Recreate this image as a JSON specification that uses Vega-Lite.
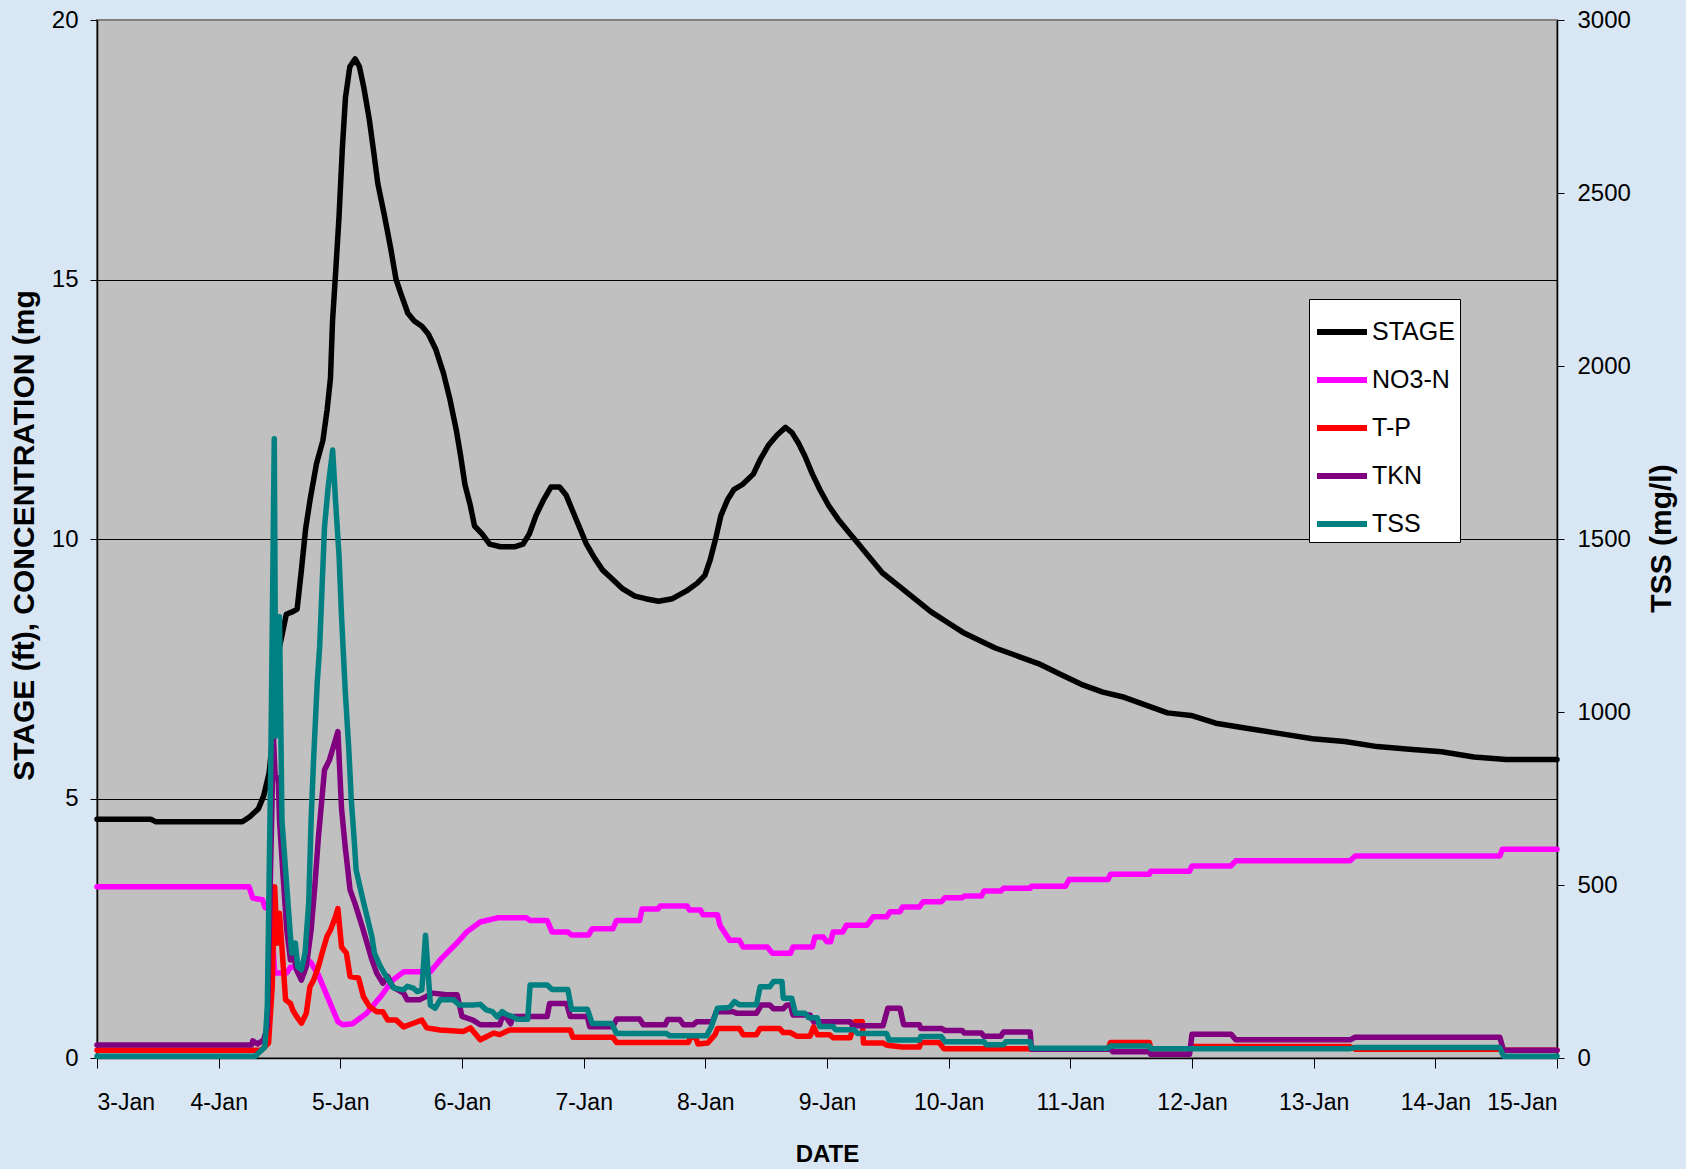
{
  "$schema": "https://vega.github.io/schema/vega-lite/v6.json",
  "width": 1460,
  "height": 1038,
  "autosize": {"type": "none"},
  "padding": {"left": 97, "top": 20, "right": 129, "bottom": 111},
  "background": "#d9e7f5",
  "config": {
    "font": "Liberation Sans",
    "view": {"fill": "#c0c0c0", "stroke": "#808080", "strokeWidth": 2},
    "axis": {"labelColor": "black", "titleColor": "black", "domainColor": "black", "tickColor": "black", "labelFont": "Liberation Sans", "titleFont": "Liberation Sans"}
  },
  "datasets": {
    "all": [
      {"series":"STAGE","day":3.0,"value":4.6},{"series":"STAGE","day":3.442,"value":4.6},{"series":"STAGE","day":3.486,"value":4.55},{"series":"STAGE","day":4.194,"value":4.55},{"series":"STAGE","day":4.256,"value":4.65},{"series":"STAGE","day":4.326,"value":4.8},{"series":"STAGE","day":4.37,"value":5.05},{"series":"STAGE","day":4.415,"value":5.5},{"series":"STAGE","day":4.45,"value":6.3},{"series":"STAGE","day":4.485,"value":7.75},{"series":"STAGE","day":4.521,"value":8.15},{"series":"STAGE","day":4.556,"value":8.55},{"series":"STAGE","day":4.609,"value":8.6},{"series":"STAGE","day":4.645,"value":8.65},{"series":"STAGE","day":4.68,"value":9.4},{"series":"STAGE","day":4.715,"value":10.2},{"series":"STAGE","day":4.751,"value":10.75},{"series":"STAGE","day":4.804,"value":11.45},{"series":"STAGE","day":4.857,"value":11.9},{"series":"STAGE","day":4.892,"value":12.5},{"series":"STAGE","day":4.919,"value":13.1},{"series":"STAGE","day":4.936,"value":14.2},{"series":"STAGE","day":4.963,"value":15.2},{"series":"STAGE","day":4.989,"value":16.2},{"series":"STAGE","day":5.016,"value":17.5},{"series":"STAGE","day":5.042,"value":18.5},{"series":"STAGE","day":5.078,"value":19.1},{"series":"STAGE","day":5.122,"value":19.25},{"series":"STAGE","day":5.157,"value":19.1},{"series":"STAGE","day":5.193,"value":18.7},{"series":"STAGE","day":5.237,"value":18.1},{"series":"STAGE","day":5.272,"value":17.5},{"series":"STAGE","day":5.308,"value":16.85},{"series":"STAGE","day":5.361,"value":16.25},{"series":"STAGE","day":5.414,"value":15.6},{"series":"STAGE","day":5.458,"value":15.0},{"series":"STAGE","day":5.502,"value":14.7},{"series":"STAGE","day":5.555,"value":14.35},{"series":"STAGE","day":5.608,"value":14.2},{"series":"STAGE","day":5.67,"value":14.1},{"series":"STAGE","day":5.723,"value":13.95},{"series":"STAGE","day":5.785,"value":13.65},{"series":"STAGE","day":5.847,"value":13.2},{"series":"STAGE","day":5.9,"value":12.7},{"series":"STAGE","day":5.953,"value":12.1},{"series":"STAGE","day":5.989,"value":11.6},{"series":"STAGE","day":6.024,"value":11.05},{"series":"STAGE","day":6.068,"value":10.65},{"series":"STAGE","day":6.103,"value":10.25},{"series":"STAGE","day":6.165,"value":10.1},{"series":"STAGE","day":6.227,"value":9.9},{"series":"STAGE","day":6.316,"value":9.85},{"series":"STAGE","day":6.431,"value":9.85},{"series":"STAGE","day":6.501,"value":9.9},{"series":"STAGE","day":6.554,"value":10.1},{"series":"STAGE","day":6.608,"value":10.45},{"series":"STAGE","day":6.669,"value":10.75},{"series":"STAGE","day":6.731,"value":11.0},{"series":"STAGE","day":6.802,"value":11.0},{"series":"STAGE","day":6.855,"value":10.85},{"series":"STAGE","day":6.908,"value":10.55},{"series":"STAGE","day":6.961,"value":10.25},{"series":"STAGE","day":7.023,"value":9.9},{"series":"STAGE","day":7.085,"value":9.65},{"series":"STAGE","day":7.156,"value":9.4},{"series":"STAGE","day":7.226,"value":9.25},{"series":"STAGE","day":7.315,"value":9.05},{"series":"STAGE","day":7.421,"value":8.9},{"series":"STAGE","day":7.509,"value":8.85},{"series":"STAGE","day":7.615,"value":8.8},{"series":"STAGE","day":7.73,"value":8.85},{"series":"STAGE","day":7.845,"value":9.0},{"series":"STAGE","day":7.934,"value":9.15},{"series":"STAGE","day":7.996,"value":9.3},{"series":"STAGE","day":8.04,"value":9.6},{"series":"STAGE","day":8.084,"value":10.0},{"series":"STAGE","day":8.128,"value":10.45},{"series":"STAGE","day":8.181,"value":10.75},{"series":"STAGE","day":8.234,"value":10.95},{"series":"STAGE","day":8.305,"value":11.05},{"series":"STAGE","day":8.394,"value":11.25},{"series":"STAGE","day":8.455,"value":11.55},{"series":"STAGE","day":8.517,"value":11.8},{"series":"STAGE","day":8.588,"value":12.0},{"series":"STAGE","day":8.659,"value":12.15},{"series":"STAGE","day":8.712,"value":12.05},{"series":"STAGE","day":8.765,"value":11.85},{"series":"STAGE","day":8.818,"value":11.6},{"series":"STAGE","day":8.88,"value":11.25},{"series":"STAGE","day":8.942,"value":10.95},{"series":"STAGE","day":9.012,"value":10.65},{"series":"STAGE","day":9.101,"value":10.35},{"series":"STAGE","day":9.189,"value":10.1},{"series":"STAGE","day":9.278,"value":9.85},{"series":"STAGE","day":9.366,"value":9.6},{"series":"STAGE","day":9.454,"value":9.35},{"series":"STAGE","day":9.587,"value":9.1},{"series":"STAGE","day":9.72,"value":8.85},{"series":"STAGE","day":9.853,"value":8.6},{"series":"STAGE","day":9.985,"value":8.4},{"series":"STAGE","day":10.118,"value":8.2},{"series":"STAGE","day":10.25,"value":8.05},{"series":"STAGE","day":10.383,"value":7.9},{"series":"STAGE","day":10.56,"value":7.75},{"series":"STAGE","day":10.737,"value":7.6},{"series":"STAGE","day":10.913,"value":7.4},{"series":"STAGE","day":11.09,"value":7.2},{"series":"STAGE","day":11.267,"value":7.05},{"series":"STAGE","day":11.444,"value":6.95},{"series":"STAGE","day":11.621,"value":6.8},{"series":"STAGE","day":11.798,"value":6.65},{"series":"STAGE","day":11.992,"value":6.6},{"series":"STAGE","day":12.195,"value":6.45},{"series":"STAGE","day":12.461,"value":6.35},{"series":"STAGE","day":12.726,"value":6.25},{"series":"STAGE","day":12.991,"value":6.15},{"series":"STAGE","day":13.256,"value":6.1},{"series":"STAGE","day":13.522,"value":6.0},{"series":"STAGE","day":13.787,"value":5.95},{"series":"STAGE","day":14.052,"value":5.9},{"series":"STAGE","day":14.317,"value":5.8},{"series":"STAGE","day":14.583,"value":5.75},{"series":"STAGE","day":15.0,"value":5.75},

      {"series":"NO3-N","day":3.0,"value":3.3},{"series":"NO3-N","day":4.25,"value":3.3},{"series":"NO3-N","day":4.28,"value":3.08},{"series":"NO3-N","day":4.36,"value":3.05},{"series":"NO3-N","day":4.38,"value":2.9},{"series":"NO3-N","day":4.43,"value":2.85},{"series":"NO3-N","day":4.46,"value":1.64},{"series":"NO3-N","day":4.56,"value":1.64},{"series":"NO3-N","day":4.59,"value":1.75},{"series":"NO3-N","day":4.7,"value":1.75},{"series":"NO3-N","day":4.73,"value":1.9},{"series":"NO3-N","day":4.76,"value":1.83},{"series":"NO3-N","day":4.82,"value":1.6},{"series":"NO3-N","day":4.86,"value":1.37},{"series":"NO3-N","day":4.93,"value":0.98},{"series":"NO3-N","day":4.98,"value":0.7},{"series":"NO3-N","day":5.02,"value":0.64},{"series":"NO3-N","day":5.1,"value":0.66},{"series":"NO3-N","day":5.22,"value":0.87},{"series":"NO3-N","day":5.33,"value":1.18},{"series":"NO3-N","day":5.43,"value":1.5},{"series":"NO3-N","day":5.52,"value":1.66},{"series":"NO3-N","day":5.74,"value":1.66},{"series":"NO3-N","day":5.82,"value":1.89},{"series":"NO3-N","day":5.96,"value":2.22},{"series":"NO3-N","day":6.04,"value":2.43},{"series":"NO3-N","day":6.15,"value":2.62},{"series":"NO3-N","day":6.29,"value":2.7},{"series":"NO3-N","day":6.53,"value":2.7},{"series":"NO3-N","day":6.56,"value":2.65},{"series":"NO3-N","day":6.7,"value":2.65},{"series":"NO3-N","day":6.74,"value":2.43},{"series":"NO3-N","day":6.87,"value":2.43},{"series":"NO3-N","day":6.9,"value":2.37},{"series":"NO3-N","day":7.04,"value":2.37},{"series":"NO3-N","day":7.07,"value":2.49},{"series":"NO3-N","day":7.24,"value":2.49},{"series":"NO3-N","day":7.27,"value":2.65},{"series":"NO3-N","day":7.46,"value":2.65},{"series":"NO3-N","day":7.48,"value":2.87},{"series":"NO3-N","day":7.61,"value":2.87},{"series":"NO3-N","day":7.63,"value":2.93},{"series":"NO3-N","day":7.85,"value":2.93},{"series":"NO3-N","day":7.87,"value":2.85},{"series":"NO3-N","day":7.96,"value":2.85},{"series":"NO3-N","day":7.98,"value":2.76},{"series":"NO3-N","day":8.1,"value":2.76},{"series":"NO3-N","day":8.12,"value":2.56},{"series":"NO3-N","day":8.2,"value":2.27},{"series":"NO3-N","day":8.28,"value":2.27},{"series":"NO3-N","day":8.31,"value":2.14},{"series":"NO3-N","day":8.51,"value":2.14},{"series":"NO3-N","day":8.55,"value":2.02},{"series":"NO3-N","day":8.7,"value":2.02},{"series":"NO3-N","day":8.72,"value":2.14},{"series":"NO3-N","day":8.88,"value":2.14},{"series":"NO3-N","day":8.9,"value":2.33},{"series":"NO3-N","day":8.97,"value":2.33},{"series":"NO3-N","day":9.0,"value":2.24},{"series":"NO3-N","day":9.03,"value":2.24},{"series":"NO3-N","day":9.05,"value":2.43},{"series":"NO3-N","day":9.13,"value":2.43},{"series":"NO3-N","day":9.16,"value":2.56},{"series":"NO3-N","day":9.33,"value":2.56},{"series":"NO3-N","day":9.38,"value":2.72},{"series":"NO3-N","day":9.49,"value":2.72},{"series":"NO3-N","day":9.52,"value":2.82},{"series":"NO3-N","day":9.6,"value":2.82},{"series":"NO3-N","day":9.62,"value":2.91},{"series":"NO3-N","day":9.76,"value":2.91},{"series":"NO3-N","day":9.79,"value":3.01},{"series":"NO3-N","day":9.94,"value":3.01},{"series":"NO3-N","day":9.97,"value":3.09},{"series":"NO3-N","day":10.11,"value":3.09},{"series":"NO3-N","day":10.13,"value":3.12},{"series":"NO3-N","day":10.27,"value":3.12},{"series":"NO3-N","day":10.29,"value":3.22},{"series":"NO3-N","day":10.43,"value":3.22},{"series":"NO3-N","day":10.45,"value":3.27},{"series":"NO3-N","day":10.67,"value":3.27},{"series":"NO3-N","day":10.68,"value":3.31},{"series":"NO3-N","day":10.96,"value":3.31},{"series":"NO3-N","day":10.99,"value":3.44},{"series":"NO3-N","day":11.31,"value":3.44},{"series":"NO3-N","day":11.33,"value":3.54},{"series":"NO3-N","day":11.65,"value":3.54},{"series":"NO3-N","day":11.66,"value":3.6},{"series":"NO3-N","day":11.98,"value":3.6},{"series":"NO3-N","day":12.0,"value":3.7},{"series":"NO3-N","day":12.32,"value":3.7},{"series":"NO3-N","day":12.36,"value":3.8},{"series":"NO3-N","day":13.3,"value":3.8},{"series":"NO3-N","day":13.34,"value":3.89},{"series":"NO3-N","day":14.53,"value":3.89},{"series":"NO3-N","day":14.55,"value":4.02},{"series":"NO3-N","day":15.0,"value":4.02},

      {"series":"T-P","day":3.0,"value":0.15},{"series":"T-P","day":4.35,"value":0.15},{"series":"T-P","day":4.41,"value":0.29},{"series":"T-P","day":4.44,"value":1.37},{"series":"T-P","day":4.46,"value":3.3},{"series":"T-P","day":4.48,"value":2.21},{"series":"T-P","day":4.5,"value":2.79},{"series":"T-P","day":4.52,"value":2.14},{"series":"T-P","day":4.55,"value":1.12},{"series":"T-P","day":4.59,"value":1.05},{"series":"T-P","day":4.61,"value":0.92},{"series":"T-P","day":4.64,"value":0.8},{"series":"T-P","day":4.68,"value":0.67},{"series":"T-P","day":4.72,"value":0.86},{"series":"T-P","day":4.75,"value":1.37},{"series":"T-P","day":4.78,"value":1.5},{"series":"T-P","day":4.82,"value":1.76},{"series":"T-P","day":4.85,"value":2.02},{"series":"T-P","day":4.89,"value":2.34},{"series":"T-P","day":4.92,"value":2.47},{"series":"T-P","day":4.96,"value":2.72},{"series":"T-P","day":4.98,"value":2.88},{"series":"T-P","day":5.01,"value":2.14},{"series":"T-P","day":5.05,"value":2.02},{"series":"T-P","day":5.08,"value":1.57},{"series":"T-P","day":5.15,"value":1.54},{"series":"T-P","day":5.19,"value":1.18},{"series":"T-P","day":5.24,"value":0.99},{"series":"T-P","day":5.3,"value":0.89},{"series":"T-P","day":5.35,"value":0.89},{"series":"T-P","day":5.39,"value":0.73},{"series":"T-P","day":5.46,"value":0.73},{"series":"T-P","day":5.52,"value":0.6},{"series":"T-P","day":5.6,"value":0.67},{"series":"T-P","day":5.67,"value":0.73},{"series":"T-P","day":5.71,"value":0.58},{"series":"T-P","day":5.82,"value":0.54},{"series":"T-P","day":6.01,"value":0.51},{"series":"T-P","day":6.07,"value":0.58},{"series":"T-P","day":6.15,"value":0.35},{"series":"T-P","day":6.2,"value":0.41},{"series":"T-P","day":6.26,"value":0.48},{"series":"T-P","day":6.31,"value":0.45},{"series":"T-P","day":6.39,"value":0.54},{"series":"T-P","day":6.89,"value":0.54},{"series":"T-P","day":6.91,"value":0.4},{"series":"T-P","day":7.24,"value":0.4},{"series":"T-P","day":7.27,"value":0.3},{"series":"T-P","day":7.86,"value":0.3},{"series":"T-P","day":7.88,"value":0.4},{"series":"T-P","day":7.92,"value":0.4},{"series":"T-P","day":7.94,"value":0.27},{"series":"T-P","day":8.02,"value":0.29},{"series":"T-P","day":8.08,"value":0.45},{"series":"T-P","day":8.1,"value":0.57},{"series":"T-P","day":8.28,"value":0.57},{"series":"T-P","day":8.31,"value":0.45},{"series":"T-P","day":8.42,"value":0.45},{"series":"T-P","day":8.45,"value":0.57},{"series":"T-P","day":8.61,"value":0.57},{"series":"T-P","day":8.64,"value":0.49},{"series":"T-P","day":8.7,"value":0.49},{"series":"T-P","day":8.75,"value":0.42},{"series":"T-P","day":8.86,"value":0.42},{"series":"T-P","day":8.89,"value":0.6},{"series":"T-P","day":8.92,"value":0.45},{"series":"T-P","day":9.02,"value":0.45},{"series":"T-P","day":9.05,"value":0.39},{"series":"T-P","day":9.19,"value":0.39},{"series":"T-P","day":9.23,"value":0.7},{"series":"T-P","day":9.29,"value":0.7},{"series":"T-P","day":9.3,"value":0.29},{"series":"T-P","day":9.46,"value":0.29},{"series":"T-P","day":9.49,"value":0.25},{"series":"T-P","day":9.51,"value":0.24},{"series":"T-P","day":9.62,"value":0.21},{"series":"T-P","day":9.76,"value":0.21},{"series":"T-P","day":9.77,"value":0.3},{"series":"T-P","day":9.92,"value":0.3},{"series":"T-P","day":9.96,"value":0.18},{"series":"T-P","day":10.67,"value":0.18},{"series":"T-P","day":10.68,"value":0.17},{"series":"T-P","day":11.31,"value":0.17},{"series":"T-P","day":11.33,"value":0.3},{"series":"T-P","day":11.65,"value":0.3},{"series":"T-P","day":11.66,"value":0.18},{"series":"T-P","day":11.98,"value":0.18},{"series":"T-P","day":12.0,"value":0.22},{"series":"T-P","day":13.3,"value":0.22},{"series":"T-P","day":13.34,"value":0.17},{"series":"T-P","day":14.53,"value":0.17},{"series":"T-P","day":14.55,"value":0.15},{"series":"T-P","day":15.0,"value":0.15},

      {"series":"TKN","day":3.0,"value":0.25},{"series":"TKN","day":4.27,"value":0.25},{"series":"TKN","day":4.28,"value":0.33},{"series":"TKN","day":4.32,"value":0.27},{"series":"TKN","day":4.37,"value":0.35},{"series":"TKN","day":4.4,"value":0.6},{"series":"TKN","day":4.43,"value":4.0},{"series":"TKN","day":4.45,"value":6.2},{"series":"TKN","day":4.465,"value":5.4},{"series":"TKN","day":4.49,"value":5.4},{"series":"TKN","day":4.5,"value":4.59},{"series":"TKN","day":4.53,"value":3.49},{"series":"TKN","day":4.56,"value":2.47},{"series":"TKN","day":4.59,"value":1.89},{"series":"TKN","day":4.61,"value":2.02},{"series":"TKN","day":4.64,"value":1.7},{"series":"TKN","day":4.68,"value":1.5},{"series":"TKN","day":4.72,"value":1.76},{"series":"TKN","day":4.76,"value":2.47},{"series":"TKN","day":4.79,"value":3.3},{"series":"TKN","day":4.82,"value":4.26},{"series":"TKN","day":4.87,"value":5.55},{"series":"TKN","day":4.91,"value":5.74},{"series":"TKN","day":4.96,"value":6.13},{"series":"TKN","day":4.98,"value":6.29},{"series":"TKN","day":5.01,"value":4.8},{"series":"TKN","day":5.04,"value":4.07},{"series":"TKN","day":5.08,"value":3.24},{"series":"TKN","day":5.12,"value":2.98},{"series":"TKN","day":5.18,"value":2.53},{"series":"TKN","day":5.22,"value":2.21},{"series":"TKN","day":5.26,"value":1.89},{"series":"TKN","day":5.3,"value":1.63},{"series":"TKN","day":5.35,"value":1.44},{"series":"TKN","day":5.39,"value":1.57},{"series":"TKN","day":5.43,"value":1.37},{"series":"TKN","day":5.52,"value":1.25},{"series":"TKN","day":5.55,"value":1.12},{"series":"TKN","day":5.65,"value":1.12},{"series":"TKN","day":5.76,"value":1.25},{"series":"TKN","day":5.87,"value":1.22},{"series":"TKN","day":5.96,"value":1.22},{"series":"TKN","day":6.0,"value":0.8},{"series":"TKN","day":6.09,"value":0.73},{"series":"TKN","day":6.15,"value":0.64},{"series":"TKN","day":6.31,"value":0.64},{"series":"TKN","day":6.34,"value":0.86},{"series":"TKN","day":6.4,"value":0.66},{"series":"TKN","day":6.42,"value":0.8},{"series":"TKN","day":6.7,"value":0.8},{"series":"TKN","day":6.72,"value":1.05},{"series":"TKN","day":6.86,"value":1.05},{"series":"TKN","day":6.89,"value":0.8},{"series":"TKN","day":7.03,"value":0.8},{"series":"TKN","day":7.05,"value":0.6},{"series":"TKN","day":7.24,"value":0.6},{"series":"TKN","day":7.27,"value":0.75},{"series":"TKN","day":7.46,"value":0.75},{"series":"TKN","day":7.49,"value":0.64},{"series":"TKN","day":7.67,"value":0.64},{"series":"TKN","day":7.69,"value":0.74},{"series":"TKN","day":7.79,"value":0.74},{"series":"TKN","day":7.82,"value":0.64},{"series":"TKN","day":7.9,"value":0.64},{"series":"TKN","day":7.93,"value":0.7},{"series":"TKN","day":8.06,"value":0.7},{"series":"TKN","day":8.09,"value":0.89},{"series":"TKN","day":8.23,"value":0.89},{"series":"TKN","day":8.26,"value":0.86},{"series":"TKN","day":8.42,"value":0.86},{"series":"TKN","day":8.46,"value":1.02},{"series":"TKN","day":8.53,"value":1.02},{"series":"TKN","day":8.56,"value":0.95},{"series":"TKN","day":8.64,"value":0.95},{"series":"TKN","day":8.67,"value":1.02},{"series":"TKN","day":8.7,"value":1.02},{"series":"TKN","day":8.72,"value":0.83},{"series":"TKN","day":8.86,"value":0.83},{"series":"TKN","day":8.89,"value":0.7},{"series":"TKN","day":9.19,"value":0.7},{"series":"TKN","day":9.21,"value":0.62},{"series":"TKN","day":9.46,"value":0.62},{"series":"TKN","day":9.5,"value":0.96},{"series":"TKN","day":9.6,"value":0.96},{"series":"TKN","day":9.63,"value":0.64},{"series":"TKN","day":9.76,"value":0.64},{"series":"TKN","day":9.77,"value":0.57},{"series":"TKN","day":9.94,"value":0.57},{"series":"TKN","day":9.97,"value":0.53},{"series":"TKN","day":10.11,"value":0.53},{"series":"TKN","day":10.13,"value":0.48},{"series":"TKN","day":10.27,"value":0.48},{"series":"TKN","day":10.29,"value":0.42},{"series":"TKN","day":10.43,"value":0.42},{"series":"TKN","day":10.45,"value":0.5},{"series":"TKN","day":10.67,"value":0.5},{"series":"TKN","day":10.68,"value":0.17},{"series":"TKN","day":11.33,"value":0.17},{"series":"TKN","day":11.35,"value":0.12},{"series":"TKN","day":11.65,"value":0.12},{"series":"TKN","day":11.66,"value":0.07},{"series":"TKN","day":11.98,"value":0.07},{"series":"TKN","day":12.0,"value":0.46},{"series":"TKN","day":12.32,"value":0.46},{"series":"TKN","day":12.36,"value":0.35},{"series":"TKN","day":13.3,"value":0.35},{"series":"TKN","day":13.34,"value":0.4},{"series":"TKN","day":14.53,"value":0.4},{"series":"TKN","day":14.56,"value":0.15},{"series":"TKN","day":15.0,"value":0.15},

      {"series":"TSS","day":3.0,"value":5},{"series":"TSS","day":4.3,"value":5},{"series":"TSS","day":4.38,"value":32},{"series":"TSS","day":4.4,"value":150},{"series":"TSS","day":4.43,"value":900},{"series":"TSS","day":4.457,"value":1790},{"series":"TSS","day":4.47,"value":930},{"series":"TSS","day":4.5,"value":1275},{"series":"TSS","day":4.52,"value":688},{"series":"TSS","day":4.56,"value":495},{"series":"TSS","day":4.6,"value":303},{"series":"TSS","day":4.63,"value":332},{"series":"TSS","day":4.65,"value":264},{"series":"TSS","day":4.68,"value":255},{"series":"TSS","day":4.71,"value":303},{"series":"TSS","day":4.74,"value":448},{"series":"TSS","day":4.76,"value":688},{"series":"TSS","day":4.78,"value":861},{"series":"TSS","day":4.81,"value":1084},{"series":"TSS","day":4.83,"value":1188},{"series":"TSS","day":4.87,"value":1535},{"series":"TSS","day":4.9,"value":1650},{"series":"TSS","day":4.937,"value":1757},{"series":"TSS","day":4.96,"value":1613},{"series":"TSS","day":4.99,"value":1448},{"series":"TSS","day":5.01,"value":1275},{"series":"TSS","day":5.04,"value":1063},{"series":"TSS","day":5.07,"value":890},{"series":"TSS","day":5.09,"value":746},{"series":"TSS","day":5.11,"value":650},{"series":"TSS","day":5.13,"value":543},{"series":"TSS","day":5.18,"value":466},{"series":"TSS","day":5.22,"value":408},{"series":"TSS","day":5.26,"value":350},{"series":"TSS","day":5.28,"value":303},{"series":"TSS","day":5.33,"value":264},{"series":"TSS","day":5.38,"value":234},{"series":"TSS","day":5.44,"value":202},{"series":"TSS","day":5.52,"value":197},{"series":"TSS","day":5.55,"value":207},{"series":"TSS","day":5.6,"value":202},{"series":"TSS","day":5.63,"value":192},{"series":"TSS","day":5.67,"value":197},{"series":"TSS","day":5.7,"value":355},{"series":"TSS","day":5.74,"value":153},{"series":"TSS","day":5.78,"value":144},{"series":"TSS","day":5.82,"value":168},{"series":"TSS","day":5.93,"value":168},{"series":"TSS","day":5.98,"value":153},{"series":"TSS","day":6.09,"value":153},{"series":"TSS","day":6.15,"value":155},{"series":"TSS","day":6.2,"value":139},{"series":"TSS","day":6.25,"value":134},{"series":"TSS","day":6.29,"value":119},{"series":"TSS","day":6.33,"value":134},{"series":"TSS","day":6.37,"value":125},{"series":"TSS","day":6.42,"value":119},{"series":"TSS","day":6.45,"value":112},{"series":"TSS","day":6.54,"value":112},{"series":"TSS","day":6.56,"value":211},{"series":"TSS","day":6.7,"value":211},{"series":"TSS","day":6.74,"value":198},{"series":"TSS","day":6.87,"value":198},{"series":"TSS","day":6.9,"value":141},{"series":"TSS","day":7.03,"value":141},{"series":"TSS","day":7.07,"value":100},{"series":"TSS","day":7.23,"value":100},{"series":"TSS","day":7.27,"value":71},{"series":"TSS","day":7.68,"value":71},{"series":"TSS","day":7.71,"value":64},{"series":"TSS","day":8.01,"value":64},{"series":"TSS","day":8.05,"value":91},{"series":"TSS","day":8.1,"value":144},{"series":"TSS","day":8.2,"value":146},{"series":"TSS","day":8.24,"value":163},{"series":"TSS","day":8.28,"value":154},{"series":"TSS","day":8.42,"value":154},{"series":"TSS","day":8.45,"value":206},{"series":"TSS","day":8.53,"value":206},{"series":"TSS","day":8.56,"value":221},{"series":"TSS","day":8.63,"value":221},{"series":"TSS","day":8.64,"value":173},{"series":"TSS","day":8.71,"value":173},{"series":"TSS","day":8.74,"value":129},{"series":"TSS","day":8.82,"value":129},{"series":"TSS","day":8.85,"value":116},{"series":"TSS","day":8.92,"value":116},{"series":"TSS","day":8.94,"value":91},{"series":"TSS","day":9.05,"value":91},{"series":"TSS","day":9.07,"value":82},{"series":"TSS","day":9.22,"value":82},{"series":"TSS","day":9.25,"value":71},{"series":"TSS","day":9.49,"value":71},{"series":"TSS","day":9.51,"value":52},{"series":"TSS","day":9.76,"value":52},{"series":"TSS","day":9.77,"value":62},{"series":"TSS","day":9.94,"value":62},{"series":"TSS","day":9.97,"value":47},{"series":"TSS","day":10.29,"value":47},{"series":"TSS","day":10.31,"value":38},{"series":"TSS","day":10.45,"value":38},{"series":"TSS","day":10.47,"value":47},{"series":"TSS","day":10.67,"value":47},{"series":"TSS","day":10.68,"value":28},{"series":"TSS","day":11.31,"value":28},{"series":"TSS","day":11.33,"value":35},{"series":"TSS","day":11.65,"value":35},{"series":"TSS","day":11.66,"value":27},{"series":"TSS","day":13.3,"value":27},{"series":"TSS","day":13.34,"value":30},{"series":"TSS","day":14.53,"value":30},{"series":"TSS","day":14.56,"value":5},{"series":"TSS","day":15.0,"value":5}
    ]
  },
  "data": {"name": "all"},
  "encoding": {
    "x": {
      "field": "day", "type": "quantitative",
      "scale": {"domain": [3, 15], "nice": false, "zero": false},
      "axis": {
        "values": [3,4,5,6,7,8,9,10,11,12,13,14,15],
        "labelExpr": "datum.value + '-Jan'",
        "title": "DATE", "grid": false,
        "tickSize": 10, "labelFontSize": 23, "labelPadding": 23,
        "titleFontSize": 24, "titleFontWeight": "bold", "titlePadding": 28,
        "domainWidth": 1.5, "labelOverlap": false
      }
    }
  },
  "layer": [
    {
      "transform": [{"filter": "datum.series !== 'TSS'"}],
      "mark": {"type": "line", "strokeWidth": 5.5, "strokeJoin": "round", "strokeCap": "round"},
      "encoding": {
        "y": {
          "field": "value", "type": "quantitative",
          "scale": {"domain": [0, 20], "nice": false},
          "axis": {
            "values": [0, 5, 10, 15, 20],
            "title": "STAGE (ft), CONCENTRATION (mg",
            "grid": true,
            "gridColor": {"condition": {"test": "datum.value === 0 || datum.value === 20", "value": "transparent"}, "value": "black"},
            "gridWidth": 1,
            "tickSize": 7, "labelFontSize": 24, "labelPadding": 12,
            "titleFontSize": 30, "titleFontWeight": "bold", "titleAngle": -90,
            "titleX": -73, "titleY": 515, "titleAlign": "center", "titleBaseline": "middle",
            "domainWidth": 1.5
          }
        },
        "color": {
          "field": "series", "type": "nominal",
          "scale": {"domain": ["STAGE", "NO3-N", "T-P", "TKN", "TSS"], "range": ["#000000", "#ff00ff", "#ff0000", "#800080", "#008080"]},
          "legend": {
            "orient": "none", "legendX": 1212, "legendY": 279, "title": null,
            "symbolType": "stroke", "symbolSize": 2500, "symbolStrokeWidth": 6,
            "labelFontSize": 25, "labelOffset": 2, "rowPadding": 7, "padding": 5,
            "fillColor": "white", "strokeColor": "black", "labelColor": "black", "labelFont": "Liberation Sans"
          }
        }
      }
    },
    {
      "transform": [{"filter": "datum.series === 'TSS'"}],
      "mark": {"type": "line", "strokeWidth": 5.5, "strokeJoin": "round", "strokeCap": "round"},
      "encoding": {
        "y": {
          "field": "value", "type": "quantitative",
          "scale": {"domain": [0, 3000], "nice": false},
          "axis": {
            "orient": "right",
            "values": [0, 500, 1000, 1500, 2000, 2500, 3000],
            "format": "d",
            "title": "TSS (mg/l)", "grid": false,
            "tickSize": 7, "labelFontSize": 24, "labelPadding": 13,
            "titleFontSize": 30, "titleFontWeight": "bold", "titleAngle": -90,
            "titleX": 104, "titleY": 518, "titleAlign": "center", "titleBaseline": "middle",
            "domainWidth": 1.5
          }
        },
        "color": {
          "field": "series", "type": "nominal",
          "scale": {"domain": ["STAGE", "NO3-N", "T-P", "TKN", "TSS"], "range": ["#000000", "#ff00ff", "#ff0000", "#800080", "#008080"]},
          "legend": {
            "orient": "none", "legendX": 1212, "legendY": 279, "title": null,
            "symbolType": "stroke", "symbolSize": 2500, "symbolStrokeWidth": 6,
            "labelFontSize": 25, "labelOffset": 2, "rowPadding": 7, "padding": 5,
            "fillColor": "white", "strokeColor": "black", "labelColor": "black", "labelFont": "Liberation Sans"
          }
        }
      }
    }
  ],
  "resolve": {"scale": {"y": "independent"}}
}
